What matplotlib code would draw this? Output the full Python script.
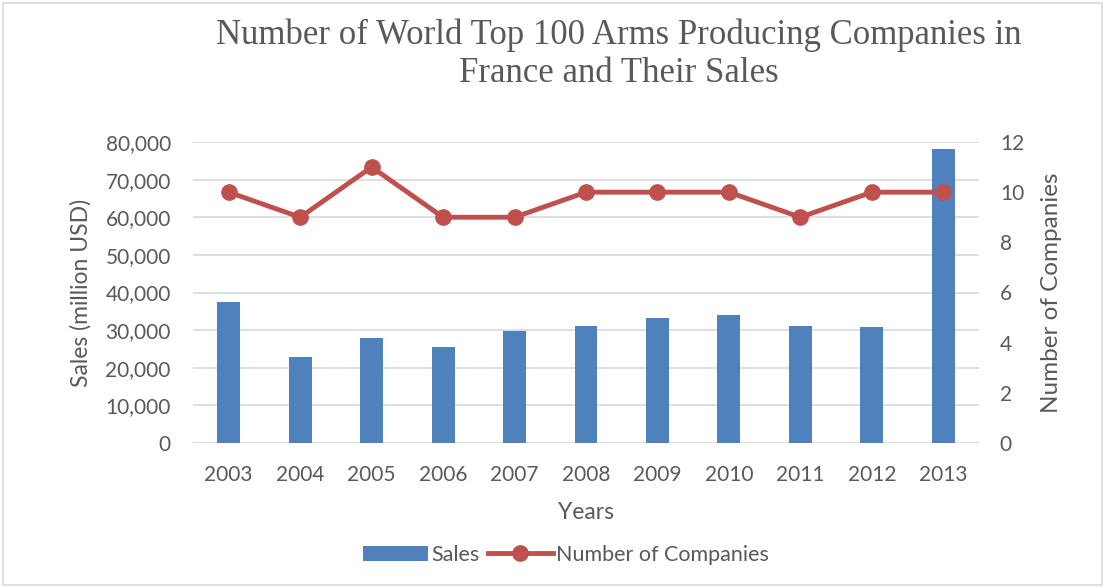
import matplotlib
matplotlib.use("Agg")
import matplotlib.pyplot as plt
from matplotlib.ticker import FuncFormatter, MultipleLocator
from matplotlib.patches import Rectangle

years = ["2003", "2004", "2005", "2006", "2007", "2008", "2009", "2010", "2011", "2012", "2013"]
sales = [37500, 22900, 28000, 25500, 29900, 31000, 33300, 34100, 31200, 30900, 78100]
companies = [10, 9, 11, 9, 9, 10, 10, 10, 9, 10, 10]

title = "Number of World Top 100 Arms Producing Companies in\nFrance and Their Sales"

W, H = 1105, 588
fig = plt.figure(figsize=(W / 100, H / 100), dpi=100)
fig.patch.set_facecolor("white")

# chart border
fig.add_artist(Rectangle((3 / W, 3 / H), (W - 6) / W, (H - 6) / H, transform=fig.transFigure,
                         fill=False, edgecolor="#D9D9D9", linewidth=1.2))

left, right, top, bottom = 193, 979, 142, 443
ax = fig.add_axes([left / W, 1 - bottom / H, (right - left) / W, (bottom - top) / H])
ax2 = ax.twinx()

txt = "#595959"
font = "Lato"
x = list(range(len(years)))

ax.bar(x, sales, width=0.32, color="#4F81BD", label="Sales", zorder=3)
ax2.plot(x, companies, color="#C0504D", linewidth=3.5, marker="o", markersize=11,
         label="Number of Companies", zorder=4)

ax.set_xlim(-0.5, len(years) - 0.5)
ax.set_ylim(0, 80000)
ax.yaxis.set_major_locator(MultipleLocator(10000))
ax.yaxis.set_major_formatter(FuncFormatter(lambda v, p: f"{int(v):,}"))
ax2.set_ylim(0, 12)
ax2.yaxis.set_major_locator(MultipleLocator(2))

ax.grid(axis="y", color="#D9D9D9", linewidth=1.2, zorder=0)
ax.set_axisbelow(True)
for a in (ax, ax2):
    for s in a.spines.values():
        s.set_visible(False)
    a.tick_params(length=0, labelsize=15, colors=txt)
ax.set_xticks(x)
ax.set_xticklabels(years, fontfamily=font)
for lab in ax.get_yticklabels() + ax2.get_yticklabels():
    lab.set_fontfamily(font)
ax.tick_params(axis="x", pad=16)
ax.tick_params(axis="y", pad=16)
ax2.tick_params(axis="y", pad=15)

ax.set_xlabel("Years", fontsize=16.5, color=txt, fontfamily=font, labelpad=12)
ax.set_ylabel("Sales (million USD)", fontsize=16.5, color=txt, fontfamily=font, labelpad=10)
ax2.set_ylabel("Number of Companies", fontsize=17.5, color=txt, fontfamily=font, labelpad=12)

fig.text(619 / W, 1 - 54 / H, title, ha="center", va="center", fontsize=25,
         fontfamily="Liberation Serif", color=txt, linespacing=1.2)

h1, l1 = ax.get_legend_handles_labels()
h2, l2 = ax2.get_legend_handles_labels()
leg = fig.legend(h1 + h2, l1 + l2, loc="center", bbox_to_anchor=(566 / W, 1 - 555 / H), ncol=2,
                 frameon=False, prop={"family": font, "size": 15.5}, handlelength=3.0,
                 columnspacing=0.4, handletextpad=0.15)
for t in leg.get_texts():
    t.set_color(txt)

fig.savefig("out.png", dpi=100, facecolor="white")
